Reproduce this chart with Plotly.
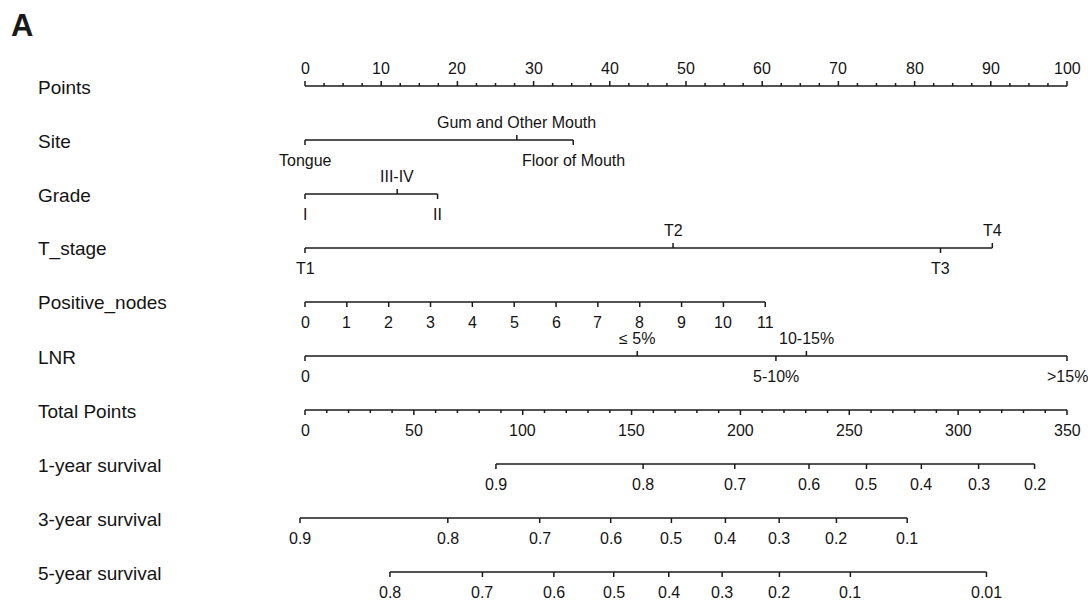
import plotly.graph_objects as go

# ---------------- data ----------------
row_names = ["Points", "Site", "Grade", "T_stage", "Positive_nodes", "LNR",
             "Total Points", "1-year survival", "3-year survival", "5-year survival"]

points_ticks = [0, 10, 20, 30, 40, 50, 60, 70, 80, 90, 100]
points_minor_step = 2.5

site_labels = ["Tongue", "Gum and Other Mouth", "Floor of Mouth"]
site_points = [0, 27.8, 35.2]
site_sides = ["below", "above", "below"]

grade_labels = ["I", "III-IV", "II"]
grade_points = [0, 12.1, 17.4]
grade_sides = ["below", "above", "below"]

tstage_labels = ["T1", "T2", "T3", "T4"]
tstage_points = [0, 48.3, 83.4, 90.2]
tstage_sides = ["below", "above", "below", "above"]

nodes_values = [0, 1, 2, 3, 4, 5, 6, 7, 8, 9, 10, 11]
nodes_points_at_max = 60.4  # points given to 11 positive nodes

lnr_labels = ["0", "\u2264 5%", "5-10%", "10-15%", ">15%"]
lnr_points = [0, 43.6, 61.8, 65.8, 100]
lnr_sides = ["below", "above", "below", "above", "below"]

total_ticks = [0, 50, 100, 150, 200, 250, 300, 350]
total_minor_step = 10
total_max = 350

surv1_labels = ["0.9", "0.8", "0.7", "0.6", "0.5", "0.4", "0.3", "0.2"]
surv1_total = [87.7, 155.3, 197.4, 231.5, 257.9, 283.1, 309.4, 335.1]

surv3_labels = ["0.9", "0.8", "0.7", "0.6", "0.5", "0.4", "0.3", "0.2", "0.1"]
surv3_total = [-2.3, 65.6, 107.8, 140.4, 168.3, 193.1, 217.8, 244.1, 276.6]

surv5_labels = ["0.8", "0.7", "0.6", "0.5", "0.4", "0.3", "0.2", "0.1", "0.01"]
surv5_total = [39.0, 81.5, 114.3, 141.8, 167.1, 191.6, 217.9, 250.5, 313.0]

# ---------------- layout constants ----------------
W, H = 1088, 602
X0_PX, X100_PX = 305, 1067
PX_PER_PT = (X100_PX - X0_PX) / 100.0
ROW0_PX, ROW_STEP_PX = 86, 54
MAJOR_TICK_PX, MINOR_TICK_PX = 5, 3
LINE_COLOR = "#1a1a1a"
TEXT_COLOR = "#141414"
FONT = "Liberation Sans, Arial, Helvetica, sans-serif"
TICK_FONT_SIZE = 16
ROW_FONT_SIZE = 19

xs, ys = [], []
annotations = []


def tot2pts(v):
    return v * 100.0 / total_max


def add_axis(row, positions, labels, sides, minor=None, minor_side="below"):
    xs.extend([min(positions), max(positions), None])
    ys.extend([row, row, None])
    for p, lab, side in zip(positions, labels, sides):
        d = -MAJOR_TICK_PX / ROW_STEP_PX if side == "above" else MAJOR_TICK_PX / ROW_STEP_PX
        xs.extend([p, p, None])
        ys.extend([row, row + d, None])
        annotations.append(dict(
            x=p, y=row, xref="x", yref="y", text=lab, showarrow=False,
            xanchor="center", yanchor="middle",
            yshift=18 if side == "above" else -20,
            font=dict(family=FONT, size=TICK_FONT_SIZE, color=TEXT_COLOR)))
    if minor:
        d = -MINOR_TICK_PX / ROW_STEP_PX if minor_side == "above" else MINOR_TICK_PX / ROW_STEP_PX
        for p in minor:
            xs.extend([p, p, None])
            ys.extend([row, row + d, None])


# Points
minor_pts = []
v = 0.0
while v <= 100 + 1e-9:
    if v not in points_ticks:
        minor_pts.append(v)
    v += points_minor_step
add_axis(0, points_ticks, [str(t) for t in points_ticks], ["above"] * len(points_ticks),
         minor_pts, "above")

add_axis(1, site_points, site_labels, site_sides)
add_axis(2, grade_points, grade_labels, grade_sides)
add_axis(3, tstage_points, tstage_labels, tstage_sides)

nodes_pts = [n * nodes_points_at_max / max(nodes_values) for n in nodes_values]
add_axis(4, nodes_pts, [str(n) for n in nodes_values], ["below"] * len(nodes_values))

add_axis(5, lnr_points, lnr_labels, lnr_sides)

# Total points
minor_tot = []
v = 0
while v <= total_max:
    if v not in total_ticks:
        minor_tot.append(tot2pts(v))
    v += total_minor_step
add_axis(6, [tot2pts(t) for t in total_ticks], [str(t) for t in total_ticks],
         ["below"] * len(total_ticks), minor_tot, "below")

add_axis(7, [tot2pts(t) for t in surv1_total], surv1_labels, ["below"] * len(surv1_labels))
add_axis(8, [tot2pts(t) for t in surv3_total], surv3_labels, ["below"] * len(surv3_labels))
add_axis(9, [tot2pts(t) for t in surv5_total], surv5_labels, ["below"] * len(surv5_labels))

# row names
for i, name in enumerate(row_names):
    annotations.append(dict(
        x=36 / W, y=i, xref="paper", yref="y", text=name, showarrow=False,
        xanchor="left", yanchor="middle", yshift=-1,
        font=dict(family=FONT, size=ROW_FONT_SIZE, color=TEXT_COLOR)))

# panel letter
annotations.append(dict(
    x=9 / W, y=1 - 26 / H, xref="paper", yref="paper", text="<b>A</b>", showarrow=False,
    xanchor="left", yanchor="middle",
    font=dict(family=FONT, size=31, color="#1a1a1a")))

fig = go.Figure()
fig.add_trace(go.Scatter(x=xs, y=ys, mode="lines",
                         line=dict(color=LINE_COLOR, width=1.5),
                         hoverinfo="skip", showlegend=False))

x_left = -X0_PX / PX_PER_PT
x_right = (W - X0_PX) / PX_PER_PT
y_top = (0 - ROW0_PX) / ROW_STEP_PX
y_bottom = (H - ROW0_PX) / ROW_STEP_PX

fig.update_layout(
    width=W, height=H,
    margin=dict(l=0, r=0, t=0, b=0),
    paper_bgcolor="white", plot_bgcolor="white",
    xaxis=dict(range=[x_left, x_right], visible=False, fixedrange=True),
    yaxis=dict(range=[y_bottom, y_top], visible=False, fixedrange=True),
    annotations=annotations,
    showlegend=False,
)

fig.write_html("out.html")
